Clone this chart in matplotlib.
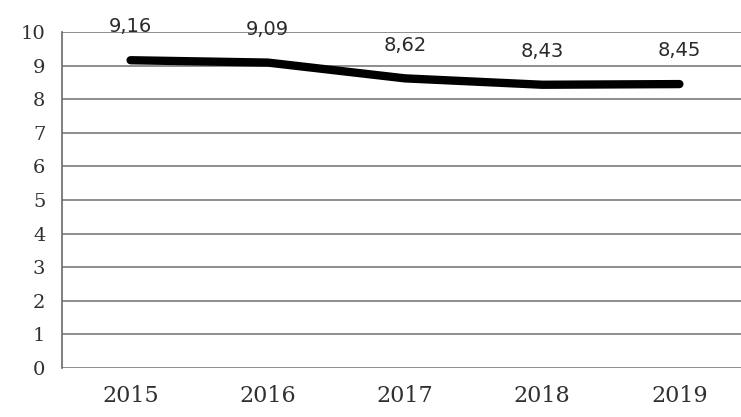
import matplotlib
matplotlib.use("Agg")
import matplotlib.pyplot as plt

years = ["2015", "2016", "2017", "2018", "2019"]
values = [9.16, 9.09, 8.62, 8.43, 8.45]
value_labels = ["9,16", "9,09", "8,62", "8,43", "8,45"]
y_ticks = list(range(0, 11))

fig = plt.figure(figsize=(7.41, 4.17), dpi=100)
ax = fig.add_axes([62 / 741, 49 / 417, 686 / 741, 336 / 417])

x = list(range(len(years)))
ax.plot(x, values, color="black", lw=6, solid_capstyle="round",
        solid_joinstyle="round", zorder=3)

for xi, v, lab in zip(x, values, value_labels):
    ax.annotate(lab, (xi, v), xytext=(0, 24), textcoords="offset points",
                ha="center", va="center", fontsize=14,
                family="DejaVu Sans", color="#2a2a2a")

ax.set_xlim(-0.5, len(years) - 0.5)
ax.set_ylim(0, 10)
ax.set_yticks(y_ticks)
ax.set_yticklabels([str(t) for t in y_ticks], family="DejaVu Serif",
                   fontsize=14, color="#303030")
ax.set_xticks(x)
ax.set_xticklabels(years, family="DejaVu Serif", fontsize=16,
                   color="#303030")
ax.tick_params(axis="both", length=0)
ax.tick_params(axis="y", pad=12)
ax.tick_params(axis="x", pad=12)

ax.grid(axis="y", color="#7a7a7a", lw=1.2)
ax.set_axisbelow(True)
for side in ["top", "right", "bottom"]:
    ax.spines[side].set_visible(False)
ax.spines["left"].set_color("#6a6a6a")
ax.spines["left"].set_linewidth(1.2)

fig.savefig("out.png", dpi=100)
